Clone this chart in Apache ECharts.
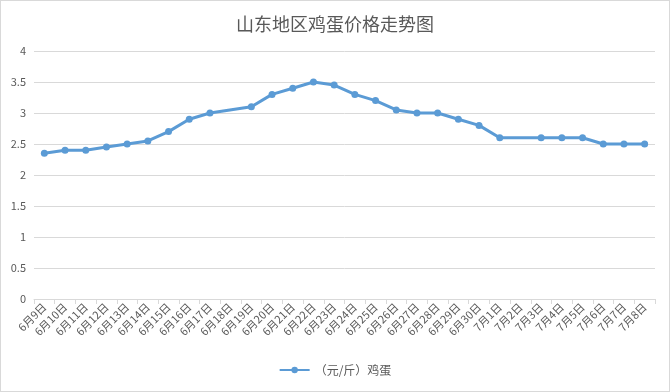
<!DOCTYPE html>
<html>
<head>
<meta charset="utf-8">
<script src="https://cdn.jsdelivr.net/npm/echarts@6/dist/echarts.min.js"></script>
<style>
html,body{margin:0;padding:0;background:#fff;}
#c{width:668px;height:390px;border:1px solid #d9d9d9;}
</style>
</head>
<body>
<div id="c"></div>
<script>
const categories = ['6月9日','6月10日','6月11日','6月12日','6月13日','6月14日','6月15日','6月16日','6月17日','6月18日','6月19日','6月20日','6月21日','6月22日','6月23日','6月24日','6月25日','6月26日','6月27日','6月28日','6月29日','6月30日','7月1日','7月2日','7月3日','7月4日','7月5日','7月6日','7月7日','7月8日'];
const eggPrice = [2.35,2.4,2.4,2.45,2.5,2.55,2.7,2.9,3.0,null,3.1,3.3,3.4,3.5,3.45,3.3,3.2,3.05,3.0,3.0,2.9,2.8,2.6,null,2.6,2.6,2.6,2.5,2.5,2.5];
const seriesName = '（元/斤）鸡蛋';
const titleText = '山东地区鸡蛋价格走势图';

const chart = echarts.init(document.getElementById('c'));
const font = '"Microsoft YaHei","Noto Sans CJK SC",sans-serif';
chart.setOption({
  animation:false,
  title:{text:titleText,left:'center',top:9,textStyle:{fontSize:18,fontWeight:'normal',color:'#595959',fontFamily:font}},
  grid:{left:33,right:14,top:50,bottom:92},
  legend:{bottom:10,left:'center',itemWidth:30,itemHeight:8,textStyle:{color:'#595959',fontSize:12,fontFamily:font},data:[seriesName]},
  xAxis:{type:'category',data:categories,boundaryGap:true,
    axisLine:{lineStyle:{color:'#d9d9d9'}},
    axisTick:{show:true,length:5,lineStyle:{color:'#d9d9d9'},alignWithLabel:false},
    axisLabel:{rotate:45,interval:0,color:'#595959',fontSize:11,margin:6,fontFamily:font}},
  yAxis:{type:'value',min:0,max:4,interval:0.5,
    axisLine:{show:false},axisTick:{show:false},
    splitLine:{lineStyle:{color:'#d9d9d9'}},
    axisLabel:{color:'#595959',fontSize:11,margin:8,fontFamily:font}},
  series:[{name:seriesName,type:'line',data:eggPrice,connectNulls:true,
    symbol:'circle',symbolSize:7,
    lineStyle:{color:'#5b9bd5',width:3},
    itemStyle:{color:'#5b9bd5'}}]
});
</script>
</body>
</html>
